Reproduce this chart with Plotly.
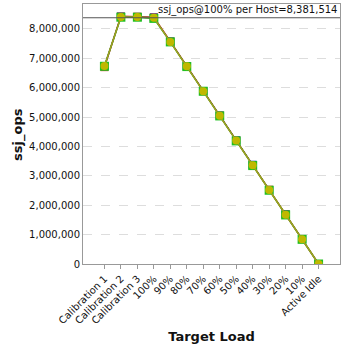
import plotly.graph_objects as go

categories = ["Calibration 1", "Calibration 2", "Calibration 3", "100%", "90%", "80%",
              "70%", "60%", "50%", "40%", "30%", "20%", "10%", "Active Idle"]
series_red = [6700000, 8430000, 8420000, 8400000, 7580000, 6740000, 5880000, 5060000,
              4210000, 3370000, 2530000, 1700000, 850000, 0]
series_blue = [6740000, 8420000, 8410000, 8390000, 7570000, 6740000, 5890000, 5050000,
               4210000, 3380000, 2520000, 1690000, 845000, 0]
series_green = [6730000, 8400000, 8400000, 8360000, 7560000, 6720000, 5880000, 5040000,
                4190000, 3350000, 2510000, 1670000, 840000, 0]
series_yellow = [6740000, 8410000, 8410000, 8380000, 7560000, 6730000, 5880000, 5050000,
                 4200000, 3360000, 2520000, 1680000, 845000, 0]
ref_value = 8381514

fig = go.Figure()
fig.add_trace(go.Scatter(x=categories, y=series_red, mode="lines+markers",
                         line=dict(color="#cc0000", width=1.5),
                         marker=dict(symbol="square", size=8, color="#e03030")))
fig.add_trace(go.Scatter(x=categories, y=series_blue, mode="lines+markers",
                         line=dict(color="#2040c0", width=1),
                         marker=dict(symbol="square", size=8, color="#2040c0")))
fig.add_trace(go.Scatter(x=categories, y=series_green, mode="lines+markers",
                         line=dict(color="#20b020", width=1.5),
                         marker=dict(symbol="square", size=9, color="#20c020")))
fig.add_trace(go.Scatter(x=categories, y=series_yellow, mode="lines+markers",
                         line=dict(color="#a0a020", width=1.5),
                         marker=dict(symbol="circle", size=8, color="#c0b800")))

fig.add_shape(type="line", xref="paper", x0=0, x1=1, yref="y", y0=ref_value, y1=ref_value,
              line=dict(color="#555555", width=1))
fig.add_annotation(xref="paper", x=0.995, yref="y", y=ref_value, yanchor="bottom", xanchor="right",
                   text=f"ssj_ops@100% per Host={ref_value:,}", showarrow=False,
                   font=dict(size=10, color="#111111", family="DejaVu Sans"))
fig.add_annotation(xref="paper", x=-0.253, yref="paper", y=0.5, xanchor="center", yanchor="middle",
                   text="<b>ssj_ops</b>", textangle=-90, showarrow=False,
                   font=dict(size=13, color="#111111", family="DejaVu Sans"))

fig.update_layout(
    width=348, height=348,
    margin=dict(l=83, r=8, t=4, b=84),
    plot_bgcolor="white", paper_bgcolor="white",
    showlegend=False,
    font=dict(family="DejaVu Sans", size=10, color="#111111"),
)
fig.update_xaxes(type="category", range=[-1.3, 14.3], automargin=False,
                 tickangle=-45, tickfont=dict(size=10),
                 showline=True, linecolor="#999999", mirror=True,
                 ticks="outside", ticklen=4, tickcolor="#999999",
                 showgrid=False,
                 title=dict(text="<b>Target Load</b>", font=dict(size=13), standoff=6))
fig.update_yaxes(range=[0, 8850000], tickformat=",d", dtick=1000000, automargin=False,
                 tickfont=dict(size=10),
                 showline=True, linecolor="#999999", mirror=True,
                 ticks="", ticklen=0,
                 showgrid=True, gridcolor="#dddddd", griddash="dash", zeroline=False)

fig.write_html("out.html")
